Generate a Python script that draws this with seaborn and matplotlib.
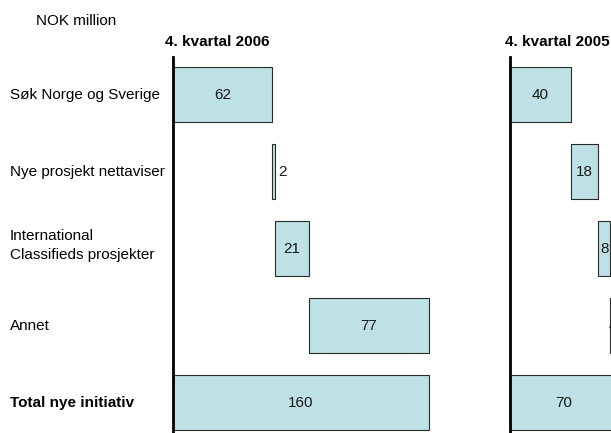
import matplotlib
matplotlib.use("Agg")
import matplotlib.pyplot as plt
import matplotlib.transforms as mtransforms
import seaborn as sns
import numpy as np
import pandas as pd

categories = ["Søk Norge og Sverige", "Nye prosjekt nettaviser",
              "International\nClassifieds prosjekter", "Annet", "Total nye initiativ"]
values_2006 = [62, 2, 21, 77]
total_2006 = 160
values_2005 = [40, 18, 8, 4]
total_2005 = 70
title_2006 = "4. kvartal 2006"
title_2005 = "4. kvartal 2005"
unit_label = "NOK million"

sns.set_theme(style="white")
plt.rcParams['font.family'] = ['Liberation Sans', 'DejaVu Sans']

W, H = 611, 433
fig = plt.figure(figsize=(W / 100, H / 100), dpi=100)

bar_color = "#BDE1E4"
edge_color = "#2a2a2a"

top_px, bot_px = 57, 432
ax_bottom = (H - bot_px) / H
ax_height = (bot_px - top_px) / H


def waterfall(ax, vals, total, xmax):
    starts = list(np.concatenate([[0], np.cumsum(vals)[:-1]])) + [0]
    widths = list(vals) + [total]
    # keep the last increment ending at the total
    widths[len(vals) - 1] = total - starts[len(vals) - 1]
    labels = list(vals) + [total]
    df = pd.DataFrame({"cat": categories, "w": widths})
    sns.barplot(data=df, x="w", y="cat", orient="h", ax=ax, color=bar_color,
                saturation=1, width=0.714, edgecolor=edge_color, linewidth=0.8)
    for p, s in zip(ax.patches, starts):
        p.set_x(s)
    for i, (p, lab) in enumerate(zip(ax.patches, labels)):
        cy = p.get_y() + p.get_height() / 2
        if lab < 3:
            ax.text(p.get_x() + p.get_width() + 1.5, cy, str(lab), ha="left",
                    va="center", fontsize=11, color="#1a1a1a")
        else:
            ax.text(p.get_x() + p.get_width() / 2, cy, str(lab), ha="center",
                    va="center", fontsize=11, color="#1a1a1a", clip_on=False)
    ax.set_xlim(0, xmax)
    ax.set_ylim(4.38, -0.49)
    for s in ["top", "right", "bottom"]:
        ax.spines[s].set_visible(False)
    ax.spines["left"].set_color("black")
    ax.spines["left"].set_linewidth(2)
    ax.set_xticks([])
    ax.set_yticks([])
    ax.set_xlabel("")
    ax.set_ylabel("")
    ax.patch.set_alpha(0)


scale_l = 1.6
ax1 = fig.add_axes([173 / W, ax_bottom, 170 * scale_l / W, ax_height])
waterfall(ax1, values_2006, total_2006, 170)

scale_r = 1.52
ax2 = fig.add_axes([510 / W, ax_bottom, 80 * scale_r / W, ax_height])
waterfall(ax2, values_2005, total_2005, 80)

# category labels
tr = mtransforms.blended_transform_factory(fig.transFigure, ax1.transData)
for i, c in enumerate(categories):
    yoff = -0.04 if "\n" in c else 0
    fig.text(10 / W, i + yoff, c, transform=tr, ha="left", va="center", fontsize=11,
             fontweight="bold" if i == len(categories) - 1 else "normal",
             color="black", linespacing=1.45)

fig.text(36 / W, 1 - 21 / H, unit_label, ha="left", va="center", fontsize=11, color="black")
fig.text(217 / W, 1 - 42 / H, title_2006, ha="center", va="center", fontsize=11,
         fontweight="bold", color="black")
fig.text(557 / W, 1 - 42 / H, title_2005, ha="center", va="center", fontsize=11,
         fontweight="bold", color="black")

fig.savefig("out.png", dpi=100)
